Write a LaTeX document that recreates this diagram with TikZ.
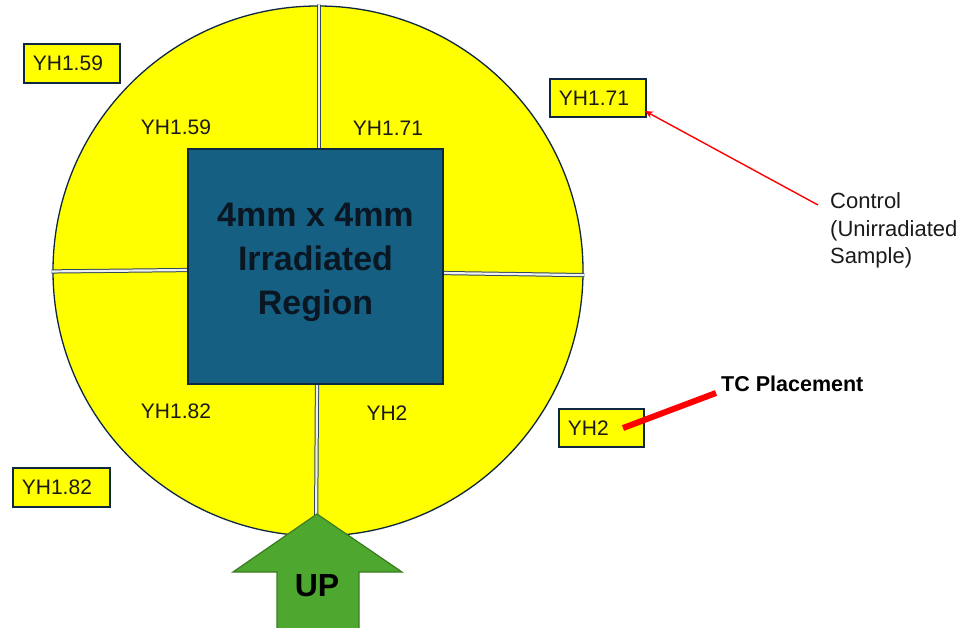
\documentclass[tikz,border=0pt]{standalone}
\usepackage{fontspec}
\setmainfont{Liberation Sans}
\usetikzlibrary{arrows.meta}
\definecolor{navy}{HTML}{0E2841}
\definecolor{accblue}{HTML}{156082}
\definecolor{accgreen}{HTML}{4EA72E}
\definecolor{darkgreen}{HTML}{3A7C22}
\definecolor{ylw}{HTML}{FFFF00}
\definecolor{txt}{HTML}{1A1A1A}
\definecolor{boxtxt}{HTML}{0A1622}
\begin{document}
\begin{tikzpicture}[x=1pt,y=-1pt,
  lbl/.style={font=\fontsize{21}{25}\selectfont, text=txt, inner sep=0pt},
  tagbox/.style={draw=navy, line width=1.8pt, fill=ylw, text=txt,
    font=\fontsize{21}{25}\selectfont, inner xsep=9pt, inner ysep=0pt,
    align=left, minimum height=38pt, anchor=north west},
  gapdark/.style={draw=navy!85, line width=4.2pt},
  gaplight/.style={draw=gray!12, line width=2.2pt}
]
\clip (0,0) rectangle (963,628);
% disc
\node[circle, draw=navy, line width=1.3pt, fill=ylw, minimum size=530pt, inner sep=0pt] (disc) at (318,271) {};
% gaps between the four pieces
\coordinate (gvt1) at (319,0);   \coordinate (gvt2) at (319,152);
\coordinate (gvb1) at (317,382); \coordinate (gvb2) at (316,540);
\coordinate (ghl1) at (48,271.5); \coordinate (ghl2) at (190,270);
\coordinate (ghr1) at (441,273); \coordinate (ghr2) at (590,275.2);
\begin{scope}
  \clip (disc.center) circle (266.5pt);
  \foreach \a/\b in {gvt1/gvt2, gvb1/gvb2, ghl1/ghl2, ghr1/ghr2} {
    \draw[gapdark] (\a) -- (\b);
    \draw[gaplight] (\a) -- (\b);
  }
\end{scope}
% irradiated region
\node[draw=navy, line width=1.5pt, fill=accblue, minimum width=255pt, minimum height=235pt, inner sep=0pt] (irr) at (315.5,266.5) {};
\node[font=\fontsize{34}{44}\selectfont\bfseries, text=boxtxt, align=center, inner sep=0pt] (irrtext) at ([yshift=4pt]irr.center) {4mm x 4mm\\Irradiated\\Region};
% labels on pieces
\node[lbl] (p159) at (176,127) {YH1.59};
\node[lbl] (p171) at (388,128) {YH1.71};
\node[lbl] (p182) at (176,411) {YH1.82};
\node[lbl] (p2) at (387,413) {YH2};
% outer tags
\node[tagbox, text width=78pt, minimum height=39pt] (b159) at (23,43) {YH1.59};
\node[tagbox, text width=78pt] (b171) at (549,78) {YH1.71};
\node[tagbox, text width=79pt, minimum height=39pt] (b182) at (12,467) {YH1.82};
\node[tagbox, text width=67pt] (b2) at (558,408) {YH2};
% control annotation
\node[font=\fontsize{22}{27.5}\selectfont, text=txt, align=left, inner sep=0pt, anchor=west] (ctrl) at (830,230.5) {Control\\(Unirradiated\\Sample)};
\coordinate (ctrlstart) at (818,205);
\coordinate (ctrltip) at (645,111);
\draw[red, line width=1.4pt, -{Stealth[length=8pt,width=7pt]}] (ctrlstart) -- (ctrltip);
% TC placement
\node[font=\fontsize{21.5}{26}\selectfont\bfseries, text=black, inner sep=0pt, anchor=west] (tc) at (721,384) {TC Placement};
\coordinate (tcA) at (623,428);
\coordinate (tcB) at (716,393);
\draw[red, line width=6pt] (tcA) -- (tcB);
% UP arrow
\draw[fill=accgreen, draw=darkgreen, line width=1.2pt] (317,514) -- (402,572) -- (359,572) -- (359,650) -- (277,650) -- (277,572) -- (233,572) -- cycle;
\node[font=\fontsize{32}{38}\selectfont\bfseries, text=black, inner sep=0pt] (up) at (317,586) {UP};
\end{tikzpicture}
\end{document}
